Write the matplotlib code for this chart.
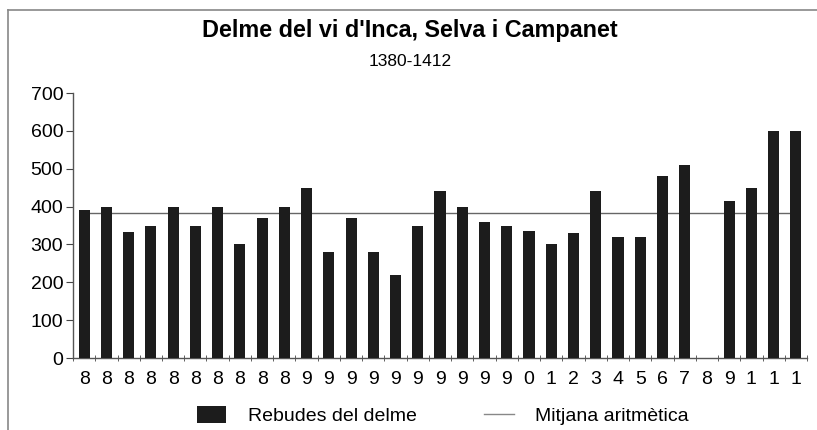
import matplotlib
matplotlib.use("Agg")
import matplotlib.pyplot as plt
from matplotlib.lines import Line2D
from matplotlib.patches import Patch
import numpy as np

# Data (1380-1412), None = no data for that year
years = list(range(1380, 1413))
tick_labels = ["8"] * 10 + ["9"] * 10 + [str(i) for i in range(10)] + ["1", "1", "1"]
rebudes = [390, 400, 333, 350, 400, 350, 400, 300, 370, 400,
           450, 280, 370, 280, 220, 350, 440, 400, 360, 350,
           335, 300, 330, 440, 320, 320, 480, 510, None, 415,
           450, 600, 600]

plt.rcParams["font.family"] = ["Liberation Sans", "DejaVu Sans"]

vals = np.array([np.nan if v is None else v for v in rebudes], dtype=float)
mitjana = np.nanmean(vals)
x = np.arange(len(years))

fig = plt.figure(figsize=(8.17, 4.30), dpi=100)
ax = fig.add_axes([0.0894, 0.1674, 0.8984, 0.6163])

ax.bar(x, np.nan_to_num(vals), width=0.5, color="#1c1c1c", zorder=3)
ax.plot([x[0], x[-1]], [mitjana, mitjana], color="#666666", lw=1.0, zorder=2)

ax.set_xlim(-0.5, len(years) - 0.5)
ax.set_ylim(0, 700)
ax.set_yticks(range(0, 701, 100))
ax.set_xticks(x)
ax.set_xticklabels(tick_labels)
ax.set_xticks(np.arange(-0.5, len(years), 1), minor=True)
ax.tick_params(axis="x", which="major", length=0, pad=9, labelsize=14)
ax.tick_params(axis="x", which="minor", length=5, direction="inout", color="#444444")
ax.tick_params(axis="y", length=5, direction="out", pad=2, labelsize=14, color="#444444")

for s in ["top", "right"]:
    ax.spines[s].set_visible(False)
for s in ["left", "bottom"]:
    ax.spines[s].set_color("#555555")
    ax.spines[s].set_linewidth(1.0)

fig.text(0.502, 0.93, "Delme del vi d'Inca, Selva i Campanet",
         ha="center", va="center", fontsize=16.8, fontweight="bold")
fig.text(0.502, 0.858, "1380-1412", ha="center", va="center", fontsize=12.5)

handles = [Patch(facecolor="#1c1c1c", edgecolor="none"),
           Line2D([0], [0], color="#888888", lw=1.0)]
fig.legend(handles, ["Rebudes del delme", "Mitjana aritmètica"],
           loc="center", bbox_to_anchor=(0.542, 0.033), ncol=2, frameon=False,
           fontsize=14, handlelength=1.5, handleheight=0.9,
           handletextpad=1.1, columnspacing=3.5)

# page frame (top and left edges)
fig.add_artist(Line2D([0.0098, 1.0], [0.977, 0.977], color="#888888", lw=1.2))
fig.add_artist(Line2D([0.0098, 0.0098], [0.0, 0.977], color="#888888", lw=1.2))

fig.savefig("out.png", dpi=100)
